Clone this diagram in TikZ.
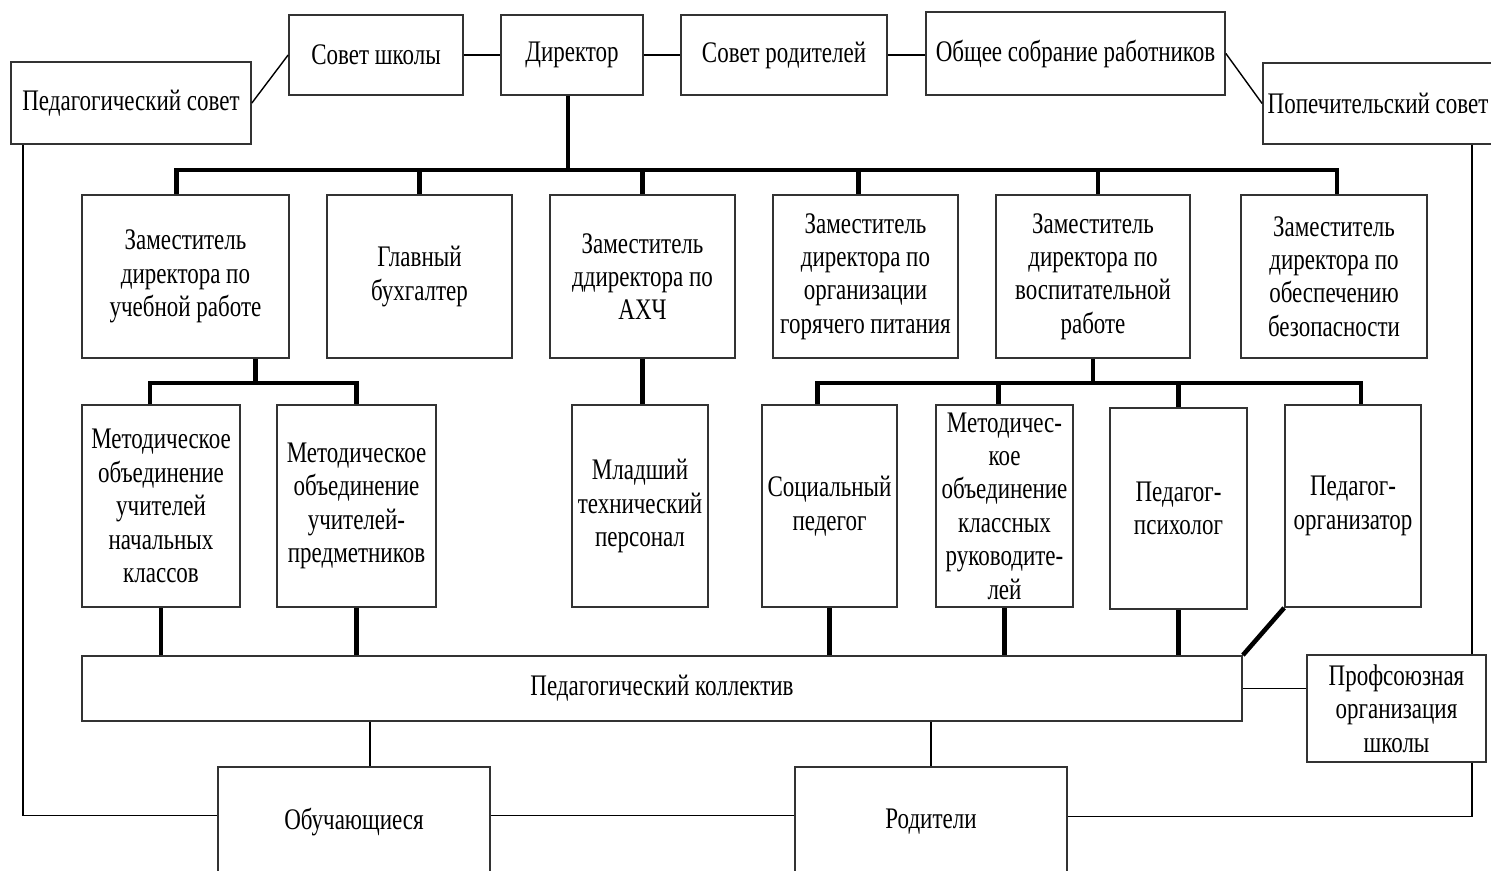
\documentclass[tikz,border=0pt]{standalone}
\usepackage{fontspec}
\setmainfont{Liberation Serif}[FakeStretch=0.77]
\usetikzlibrary{calc}
\newcommand\bx[6]{\node[box,minimum width={(#4-#2)*0.02cm},minimum height={(#5-#3)*0.02cm}] (#1) at ({(#2+#4)/2},{(#3+#5)/2}) {#6};}
\begin{document}
\begin{tikzpicture}[x=0.02cm,y=-0.02cm,
  box/.style={draw=black!80, line width=1pt, fill=white, align=center, inner sep=0pt, font=\fontsize{17}{19}\selectfont},
  link/.style={line width=0.8pt},
  bus/.style={line width=2.6pt}]
\clip (0,0) rectangle (1491,870);
\fill[white] (0,0) rectangle (1491,870);
% top row
\bx{pedsov}{11}{62}{251}{144}{Педагогический совет}
\bx{sovsh}{289}{15}{463}{95}{Совет школы}
\bx{dir}{501}{15}{643}{95}{Директор}
\bx{sovrod}{681}{15}{887}{95}{Совет родителей}
\bx{obsh}{926}{12}{1225}{95}{Общее собрание работников}
\bx{popech}{1263}{63}{1493}{144}{Попечительский совет}
% second row
\bx{zur}{82}{195}{289}{358}{Заместитель\\директора по\\учебной работе}
\bx{buh}{327}{195}{512}{358}{Главный\\бухгалтер}
\bx{ahch}{550}{195}{735}{358}{Заместитель\\ддиректора по\\АХЧ}
\bx{pit}{773}{195}{958}{358}{Заместитель\\директора по\\организации\\горячего питания}
\bx{vosp}{996}{195}{1190}{358}{Заместитель\\директора по\\воспитательной\\работе}
\bx{bez}{1241}{195}{1427}{358}{Заместитель\\директора по\\обеспечению\\безопасности}
% third row
\bx{mo1}{82}{405}{240}{607}{Методическое\\объединение\\учителей\\начальных\\классов}
\bx{mo2}{277}{405}{436}{607}{Методическое\\объединение\\учителей-\\предметников}
\bx{mlad}{572}{405}{708}{607}{Младший\\технический\\персонал}
\bx{soc}{762}{405}{897}{607}{Социальный\\педегог}
\bx{mokl}{936}{405}{1073}{607}{Методичес-\\кое\\объединение\\классных\\руководите-\\лей}
\bx{psych}{1110}{408}{1247}{609}{Педагог-\\психолог}
\bx{org}{1285}{405}{1421}{607}{Педагог-\\организатор}
% bottom
\bx{koll}{82}{656}{1242}{721}{Педагогический коллектив}
\bx{prof}{1307}{655}{1486}{762}{Профсоюзная\\организация\\школы}
\bx{obuch}{218}{767}{490}{878}{Обучающиеся}
\bx{rodit}{795}{767}{1067}{876}{Родители}
% top links
\draw[link] (pedsov.east) -- (sovsh.west);
\draw[link] (sovsh.east) -- (dir.west);
\draw[link] (dir.east) -- (sovrod.west);
\draw[link] (sovrod.east) -- (sovrod.east -| obsh.west);
\draw[link] (obsh.east) -- (popech.west);
% director bus
\coordinate (b1) at (0,170);
\path ($(dir.south)+(-4,0)$) coordinate (dn);
\path ($(zur.north)+(-9,0)$) coordinate (zn);
\path ($(pit.north)+(-7,0)$) coordinate (pn);
\path ($(vosp.north)+(5,0)$) coordinate (vn);
\path ($(bez.north)+(3,0)$) coordinate (bn);
\draw[bus] (dn) -- (dn |- b1);
\draw[bus] (zn) -- (zn |- b1) -- (bn |- b1) -- (bn);
\foreach \n in {buh,ahch} \draw[bus] (\n.north) -- (\n.north |- b1);
\draw[bus] (pn) -- (pn |- b1);
\draw[bus] (vn) -- (vn |- b1);
% second buses
\coordinate (b2) at (0,383);
\path ($(zur.south)+(70,0)$) coordinate (zd);
\path ($(mo1.north)+(-11,0)$) coordinate (m1n);
\path ($(soc.north)+(-12,0)$) coordinate (sn);
\path ($(org.north)+(8,0)$) coordinate (on);
\path ($(mokl.north)+(-6,0)$) coordinate (mkn);
\draw[bus] (zd) -- (zd |- b2);
\draw[bus] (m1n) -- (m1n |- b2) -- (mo2.north |- b2) -- (mo2.north);
\draw[bus] (ahch.south) -- (ahch.south |- mlad.north);
\draw[bus] (vosp.south) -- (vosp.south |- b2);
\draw[bus] (sn) -- (sn |- b2) -- (on |- b2) -- (on);
\draw[bus] (mkn) -- (mkn |- b2);
\draw[bus] (psych.north) -- (psych.north |- b2);
% to collective
\foreach \n in {mo1,mo2,soc,mokl,psych} \draw[bus] (\n.south) -- (\n.south |- koll.north);
\draw[bus] (org.south west) -- (koll.north east);
% thin links bottom
\path ($(obuch.north)+(16,0)$) coordinate (oc);
\draw[link] (oc) -- (oc |- koll.south);
\draw[link] (rodit.north) -- (rodit.north |- koll.south);
\draw[link] (koll.east) -- (koll.east -| prof.west);
\path ($(pedsov.south west)+(13,0)$) coordinate (pl);
\path ($(obuch.west)+(0,-7)$) coordinate (ol);
\draw[link] (pl) |- (ol);
\path ($(obuch.east)+(0,-7)$) coordinate (orr);
\draw[link] (orr) -- (orr -| rodit.west);
\path ($(popech.south west)+(210,0)$) coordinate (pr);
\path ($(rodit.east)+(0,-5)$) coordinate (rr);
\draw[link] (pr) -- (pr |- prof.north);
\draw[link] (pr |- prof.south) |- (rr);
\end{tikzpicture}
\end{document}
